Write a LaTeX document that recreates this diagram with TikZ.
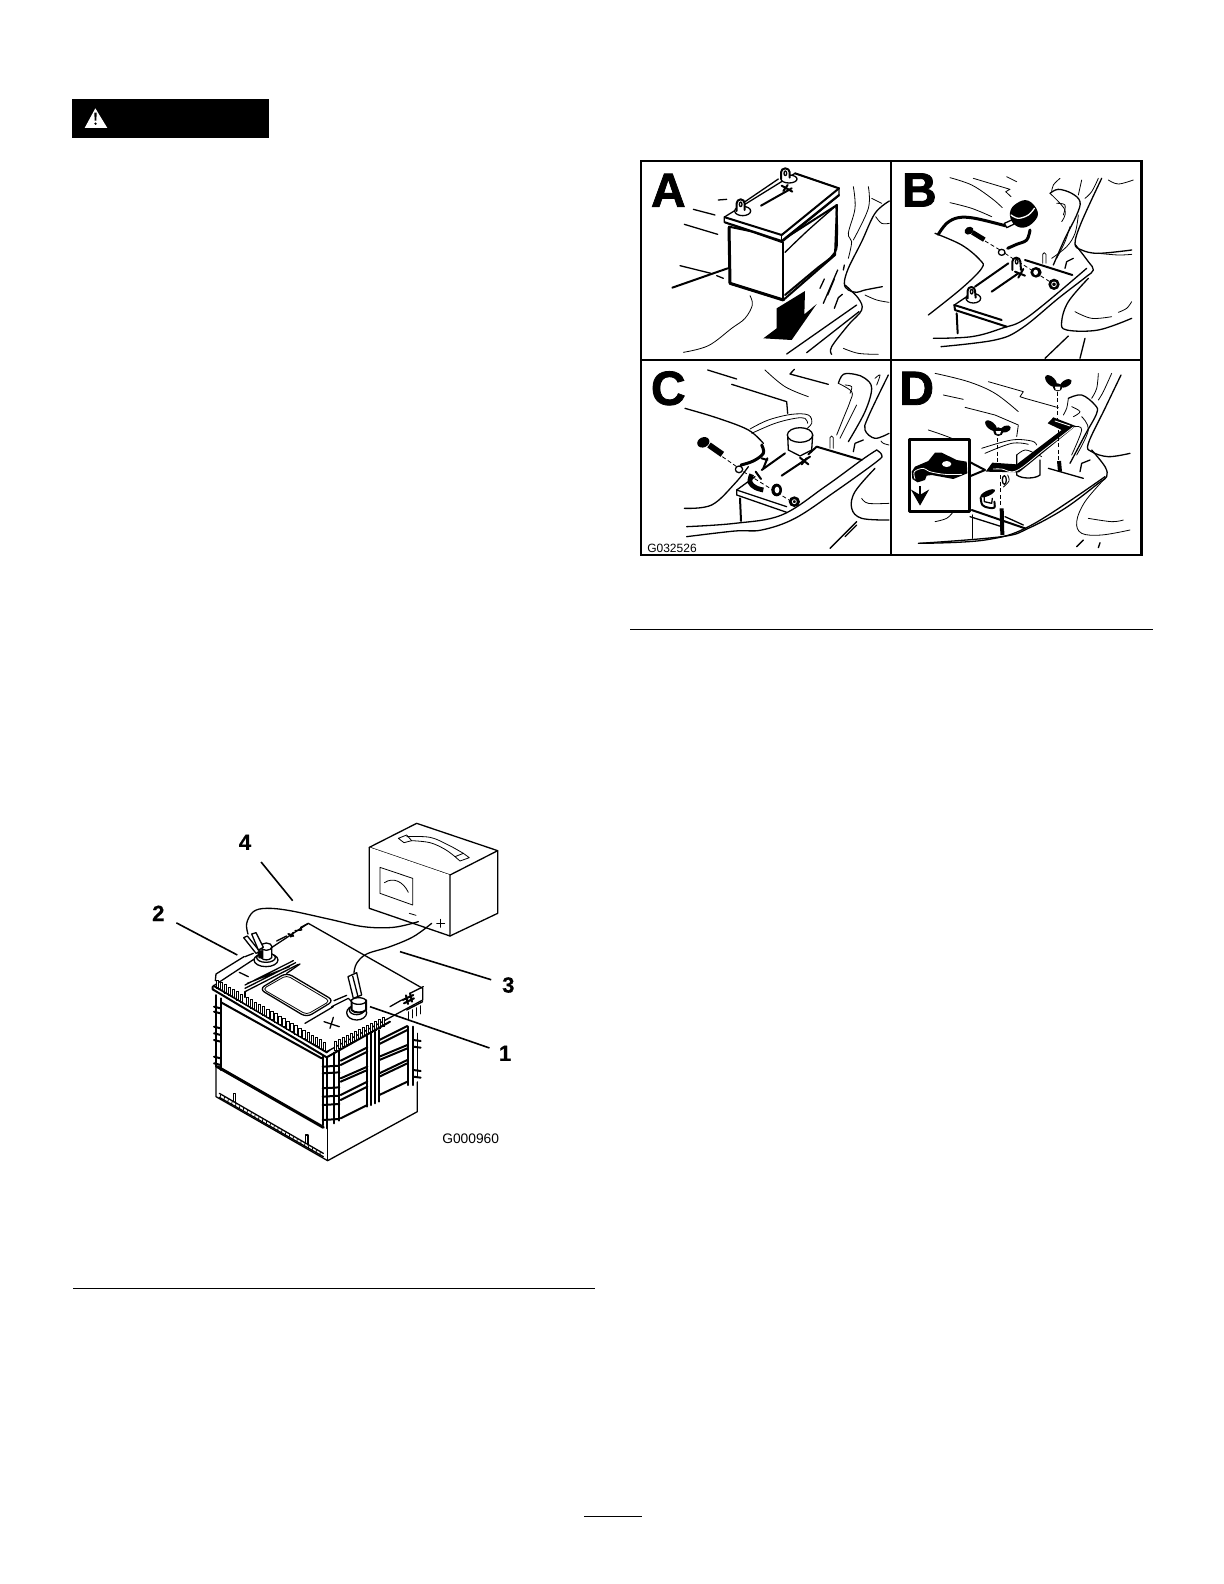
\documentclass[tikz,border=0pt]{standalone}
\usepackage{fontspec}
\setmainfont{Liberation Sans}
\newfontfamily\heavyf{Liberation Sans}[BoldFeatures={FakeBold=1.6}]
\newfontfamily\numf{Liberation Sans}[BoldFeatures={FakeBold=.6}]
\usetikzlibrary{arrows.meta}
\newcommand\crv[2][ln]{\draw[#1] plot[smooth,tension=.6] coordinates {#2};}
\tikzset{
  ln/.style={line width=.4pt,line cap=round,line join=round},
  lnm/.style={line width=.65pt,line cap=round,line join=round},
  lnb/.style={line width=1pt,line cap=round,line join=round},
  lnh/.style={line width=1.5pt,line cap=round,line join=round},
  dsh/.style={line width=.4pt,dash pattern=on 2pt off 1.3pt},
  rule/.style={line width=.5pt},
  frame/.style={line width=1.1pt},
  lab/.style={font=\numf\bfseries\fontsize{11}{12}\selectfont,circle,inner sep=0pt},
  leader/.style={line width=.8pt},
  code/.style={font=\fontsize{6.9}{8}\selectfont,inner sep=0pt},
  letter/.style={font=\heavyf\bfseries\fontsize{24}{26}\selectfont,inner sep=0pt},
}
\begin{document}
\begin{tikzpicture}[x=.5pt,y=-.5pt]
\useasboundingbox (0,0) rectangle (1224,1584);
\fill[white] (0,0) rectangle (1224,1584);
% header bar
\fill[black] (72,99) rectangle (269,137.7);
\begin{scope}[shift={(60,90)},scale=1/3]
\fill[white,line join=round] (106,55)--(74,114)--(142,114)--cycle;
\fill[black] (103,68)--(110,68)--(109,92)--(104,92)--cycle;
\fill[black] (106.5,101) circle (4);
\end{scope}
% rules
\draw[rule] (73,1288)--(595,1288);
\draw[rule] (630,629.5)--(1153,629.5);
\draw[rule] (584,1516)--(642,1516);

%%%%%%%%%%%%%%%% battery and meter
\begin{scope}[shift={(130,810)},scale=1/3]
% meter
\draw[lnm,fill=white] (718,112)--(860,40)--(1103,122)--(960,195)--cycle;
\draw[lnm,fill=white] (718,112)--(718,295)--(960,378)--(960,195);
\draw[lnm,fill=white] (960,378)--(1103,310)--(1103,122);
\draw[ln] (805,85)--(830,75)--(845,92)--(822,98)--cycle;
\draw[ln] (975,140)--(1000,130)--(1018,143)--(990,153)--cycle;
\crv{(830,80)(900,82)(955,105)(1000,130)}
\crv{(845,92)(900,98)(945,118)(975,140)}
\draw[ln] (750,172)--(848,205)--(848,285)--(750,250)--cycle;
\draw[ln] (763,218) .. controls (790,200) and (820,215) .. (835,247);
\draw[ln] (838,310)--(858,316);
\draw[ln] (932,328)--(932,352) (920,340)--(944,340);
% bottom block of battery
\draw[lnm,fill=white] (258,770)--(258,860)--(593,1052)--(862,905)--(862,790)--(590,900)--cycle;
\draw[lnm] (593,955)--(593,1052);
\draw[lnm] (268,850)--(580,1030);
\draw[lnm] (268,862)--(580,1040);
\foreach \i in {0,...,26} \draw[ln] ({272+\i*11.5},{855+\i*6.6})--++(-2,9);
\draw[lnm] (310,875)--(310,850)--(316,850)--(316,880);
\draw[lnm] (526,1000)--(526,975)--(534,975)--(534,1005);
% main body
\fill[white] (262,550)--(262,770)--(590,955)--(870,810)--(870,590)--(590,735)--cycle;
% left face
\draw[lnb] (258,555)--(258,770) (272,565)--(272,780);
\draw[lnb] (275,578)--(575,745);
\draw[lnh] (262,770)--(580,952);
\foreach \yy in {590,605,650,670,690,740,760} \draw[lnb] (252,\yy)--(272,{\yy+5});
% corner
\draw[lnb] (578,740)--(578,945) (590,745)--(590,955) (612,728)--(612,940) (628,722)--(628,932);
\foreach \yy in {770,790,835,860,885,930} \draw[lnb] (578,\yy)--(628,{\yy-3});
% right face grid
\foreach \xa/\ya/\xb/\yb in {632/752/712/712, 632/765/712/725, 632/855/712/815, 632/870/712/830, 632/925/712/885,
 748/690/832/648, 748/702/832/660, 748/790/832/750, 748/800/832/760, 748/855/832/815,
 632/805/712/770, 632/815/712/780, 748/740/832/705, 748/750/832/715}
  \draw[lnb] (\xa,\ya)--(\xb,\yb);
\draw[lnb] (712,675)--(712,890) (722,670)--(722,885) (735,665)--(735,880) (746,660)--(746,875);
\draw[lnb] (834,650)--(834,825) (848,650)--(848,825);
\draw[lnm] (862,670)--(862,800);
\foreach \yy in {690,710,780,800} \draw[lnb] (850,\yy)--(872,{\yy+3});
% lid
\draw[lnm,fill=white] (250,528)--(535,340)--(878,535)--(878,570)--(590,725)--cycle;
% teeth
\foreach \i in {0,...,6} \draw[line width=.5pt,fill=white] ({258+\i*12},{510+\i*7.1}) rectangle ++(8,25);
\foreach \i in {0,...,19} \draw[line width=.5pt,fill=white] ({348+\i*12.2},{562+\i*7.1}) rectangle ++(8,25);
\foreach \i in {0,...,12} \draw[line width=.5pt,fill=white] ({612+\i*12},{695-\i*6}) rectangle ++(8,26);
\draw[lnb] (248,530)--(248,538)--(590,742);
\draw[lnm] (250,526)--(590,728);
\draw[lnb] (590,742)--(780,635);
\draw[lnm] (258,492)--(342,440) (258,492)--(256,512) (370,430)--(345,440);
\draw[lnm] (590,728)--(600,720);
% sloped band on top
\draw[lnm] (345,545)--(505,463) (345,535)--(497,458) (345,525)--(490,452) (352,520)--(478,470);
\draw[lnm] (345,545)--(345,562);
\draw[lnm] (440,393)--(470,378);
\draw[lnb] (475,372)--(490,378) (490,368)--(482,380);
\draw[lnm] (495,362)--(515,360)--(512,352)--(535,340);
% window
\draw[lnm,rounded corners=3pt] (388,537)--(470,488)--(612,572)--(530,622)--cycle;
\draw[ln,rounded corners=2pt] (398,537)--(470,496)--(600,573)--(530,614)--cycle;
\draw[lnm] (470,490)--(510,462);
\draw[lnm] (612,572)--(650,556) (605,590)--(655,565)--(665,575);
\draw[lnm] (525,640)--(610,590);
% marks
\draw[lnm] (328,487)--(355,500);
\draw[lnm] (582,635)--(628,650) (610,622)--(600,655);
\draw[lnm] (780,590)--(815,570) (840,550)--(880,530);
\draw[lnb] (818,570)--(850,555) (822,580)--(852,565) (828,556)--(834,582) (840,550)--(846,575);
\draw[lnm] (830,600)--(878,575);
\foreach \i in {0,...,3} \draw[ln] ({835+\i*12},{605-\i*6})--++(0,25);
% negative post
\draw[lnm,fill=white] (408,450) ellipse (36 and 20);
\draw[lnm,fill=white] (408,443) ellipse (28 and 14);
\draw[lnm,fill=white] (393,410)--(393,443) .. controls (400,452) and (418,452) .. (425,443)--(425,410);
\draw[lnm,fill=white] (409,410) ellipse (17 and 11);
% clip on negative
\draw[lnm,fill=white] (341,383)--(352,378)--(390,425)--(378,430)--cycle;
\draw[lnm,fill=white] (365,372)--(378,368)--(400,412)--(385,420)--cycle;
\fill (382,425) -- (400,420)--(400,445)--(386,445)--cycle;
% positive post
\draw[lnm,fill=white] (680,608) ellipse (30 and 22);
\draw[lnm,fill=white] (680,600) ellipse (22 and 14);
\draw[lnb,fill=white] (665,570)--(665,600) .. controls (672,610) and (700,610) .. (708,600)--(708,570);
\draw[lnm,fill=white] (686,573) ellipse (22 and 10);
\draw[lnm,fill=white] (654,500)--(680,488)--(695,555)--(670,565)--cycle;
\draw[lnm] (668,498)--(684,560);
% wires
\crv[lnm]{(354,372)(350,340)(370,305)(410,295)(480,302)(600,328)(700,350)(790,352)(865,335)}
\crv[lnm]{(905,340)(850,380)(780,410)(710,432)(680,460)(672,488)}
% labels
\node[lab,minimum size=25pt] (n4) at (345,97) {4};
\node[lab,minimum size=20pt] (n2) at (85,310) {2};
\node[lab,minimum size=17.5pt] (n3) at (1135,525) {3};
\node[lab,minimum size=16pt] (n1) at (1125,730) {1};
\coordinate (e4) at (488,272);
\coordinate (e2) at (322,435);
\coordinate (e3) at (810,425);
\coordinate (e1) at (720,590);
\draw[leader] (n4)--(e4);
\draw[leader] (n2)--(e2);
\draw[leader] (n3)--(e3);
\draw[leader] (n1)--(e1);
\node[code,anchor=center] (g1) at (1022,987) {G000960};
\end{scope}

%%%%%%%%%%%%%%%% panel A
\begin{scope}[shift={(635,155)},scale=1/3]
\node[letter] (la) at (100,106) {A};
\draw[lnm] (175,163)--(240,180) (148,208)--(248,238) (250,135)--(275,133) (135,332)--(228,355) (245,362)--(265,370);
\draw[lnb] (112,398)--(278,340);
\crv{(345,422)(352,450)(330,490)(290,520)(220,572)(145,592)}
% battery
\draw[lnb,fill=white] (282,215)--(285,385)--(445,435)--(600,300)--(606,150)--(450,250)--cycle;
\draw[lnh] (282,218)--(285,385)--(445,435);
\draw[lnb] (445,435)--(445,262);
\crv[lnm]{(450,292)(520,225)(600,155)}
\crv[lnb]{(450,420)(540,345)(598,295)(606,240)(604,150)}
\draw[lnm,fill=white] (268,185)--(268,202)--(440,262)--(612,122)--(612,100)--(480,55)--(270,185);
\draw[lnb] (270,187)--(440,240)--(612,100);
\draw[lnb] (270,202)--(440,258)--(612,120);
\draw[lnm] (440,238)--(440,258);
\draw[lnm] (330,140)--(430,72);
\draw[lnb] (480,55)--(612,100);
\draw[lnb] (378,152)--(470,100);
\draw[lnb] (440,92)--(472,110) (445,108)--(458,90);
% terminals
\draw[lnm,fill=white] (323,168) ellipse (24 and 14);
\draw[lnb,fill=white] (305,168)--(305,145) arc (180:360:12 and 12)--(329,165);
\draw[lnm] (317,148) ellipse (4 and 7);
\draw[lnm,fill=white] (462,72) ellipse (24 and 12);
\draw[lnb,fill=white] (438,72)--(438,52) arc (180:360:13 and 12)--(464,68);
\draw[lnm] (451,55) ellipse (4 and 7);
% arrow
\fill (425,460)--(510,408)--(508,478)--(545,447)--(470,555)--(385,550)--(425,520)--cycle;
% right
\draw[lnm] (555,400)--(568,372) (565,445)--(608,345) (578,420)--(598,372) (625,345)--(628,330);
\draw[lnm] (598,460)--(610,428)--(622,418);
\crv[lnm]{(763,138)(720,175)(680,260)(640,340)(628,385)(640,405)(665,412)(690,405)(742,395)}
\crv{(655,95)(660,160)(640,235)(650,260)(640,310)}
\crv{(700,95)(700,160)(655,255)}
\draw[ln] (710,130)--(740,145);
\crv{(763,205)(740,205)(722,185)}
\crv{(690,420)(725,435)(762,442)}
\crv[lnm]{(630,390)(670,430)(680,465)(640,510)(590,575)(590,598)}
\draw[lnm] (455,597)--(665,450);
\draw[lnm] (515,593)--(672,470);
\crv{(625,580)(670,595)(730,598)}
\end{scope}

%%%%%%%%%%%%%%%% panel B
\begin{scope}[shift={(885,155)},scale=1/3]
\node[letter] (lb) at (103,105) {B};
\crv{(195,68)(260,90)(320,130)(352,158)}
\draw[ln] (265,70)--(375,103)--(362,110)--(378,125);
\crv{(365,65)(395,80)}
\crv{(195,143)(260,160)(320,185)}
\crv[lnh]{(160,238)(185,205)(220,188)(270,190)(360,212)}
% boot
\fill plot[smooth cycle,tension=.7] coordinates {(375,172)(395,145)(430,137)(458,170)(447,200)(415,218)(385,205)};
\crv[white,lnm]{(378,180)(400,190)(430,180)(448,160)}
\draw[lnm,fill=white] (358,205)--(380,195)--(388,207)--(365,218)--cycle;
\crv[lnh]{(435,225)(425,255)(395,268)(368,280)}
\draw[lnm,fill=white] (350,292) ellipse (10 and 9);
\draw[line width=2.4pt] (262,232)--(298,254);
\fill[rotate around={30:(252,227)}] (252,227) ellipse (14 and 11);
\draw[dsh] (300,258)--(345,285) (360,295)--(390,315) (400,320)--(510,390);
\crv[lnm]{(150,235)(230,270)(285,315)(290,340)(230,400)(130,480)}
% battery
\draw[lnb] (270,395)--(370,325);
\draw[lnb] (420,315)--(562,360);
\draw[lnb] (320,410)--(400,355);
\draw[lnb] (390,350)--(420,362) (400,368)--(415,342);
\draw[lnm] (208,450)--(245,425);
\draw[lnb] (208,450)--(210,465)--(365,515);
\draw[lnb] (208,450)--(350,495);
\draw[lnb] (215,475)--(218,535);
\draw[lnm,fill=white] (265,430) ellipse (22 and 14);
\draw[lnb,fill=white] (248,430)--(248,407) arc (180:360:11 and 11)--(272,428);
\draw[lnm] (260,410) ellipse (4 and 7);
\draw[lnb,fill=white] (382,345)--(382,320) arc (180:360:12 and 12)--(408,345);
\draw[lnm] (395,320) ellipse (4 and 7);
\fill (453,352) ellipse (17 and 16);
\fill[white] (452,352) ellipse (7 and 8);
\fill (507,388) ellipse (17 and 17);
\draw[white,ln] (507,388) circle (7);
% surround
\crv[lnm]{(145,550)(260,545)(350,520)(430,485)(605,340)}
\crv[lnm]{(570,268)(610,320)(625,345)(600,368)(520,430)(410,520)(330,555)(168,575)}
\crv[lnm]{(740,285)(640,295)(590,285)(570,265)(590,200)(650,70)}
\crv[lnm]{(495,115)(520,103)(560,115)(585,140)(575,180)(540,250)(505,330)}
\crv{(495,115)(540,165)(530,200)}
\crv{(515,145)(540,150)(535,180)}
\crv{(580,180)(570,235)(545,275)(500,310)}
\crv{(555,215)(540,260)(515,310)}
\draw[ln] (473,325)--(473,298) arc (180:360:5 and 5)--(483,325);
\draw[lnm] (540,340)--(545,320)--(565,310);
\crv{(525,70)(505,90)(500,110)}
\crv{(590,75)(580,120)}
\crv{(640,70)(620,110)(600,130)}
\crv{(670,75)(700,87)(745,75)}
\crv{(640,295)(700,300)(740,298)}
\crv{(740,440)(725,460)(700,472)}
\crv{(570,470)(620,490)(680,485)}
\crv[lnm]{(740,490)(640,525)(545,525)(530,500)(550,440)(610,370)}
\draw[lnm] (550,543)--(480,610) (600,550)--(585,610);
\end{scope}

%%%%%%%%%%%%%%%% panel C
\begin{scope}[shift={(635,355)},scale=1/3]
\node[letter] (lc) at (100,100) {C};
\draw[lnm] (218,45)--(305,72);
\crv{(390,45)(450,95)(520,125)}
\draw[lnm] (478,43)--(465,57)--(580,88);
\draw[lnm] (290,88)--(455,140)--(458,175);
\crv[lnm]{(150,160)(250,190)(340,225)(385,265)}
\crv{(345,222)(400,195)(470,178)(520,180)(530,205)(510,225)}
\crv{(350,235)(420,205)(480,190)(510,190)(518,205)}
% cylinder
\draw[lnm,fill=white] (458,240)--(460,285)--(495,303)--(530,285)--(533,240);
\draw[lnm,fill=white] (495,240) ellipse (38 and 22);
% bolt
\draw[line width=3pt] (222,270)--(262,298);
\fill[rotate around={25:(205,262)}] (205,262) ellipse (19 and 15);
\draw[dsh] (262,305)--(305,335) (325,350)--(470,440);
\crv[lnh]{(380,270)(385,295)(355,318)(318,330)}
\draw[lnm,fill=white] (312,343) ellipse (11 and 10);
\draw[lnb] (385,340)--(397,310)(397,315)--(380,310);
% battery
\draw[lnm] (305,405)--(360,365);
\draw[lnb] (380,345)--(450,295);
\draw[lnb] (440,362)--(525,305);
\draw[lnb] (495,308)--(520,328) (500,328)--(515,310);
\draw[lnb] (545,275)--(680,315) (545,275)--(520,298);
\crv[line width=2.4pt]{(350,358)(345,382)(362,398)(385,405)}
\draw[lnb] (362,350)--(378,372);
\fill (425,405) ellipse (16 and 19);
\fill[white] (426,405) ellipse (7 and 10);
\fill (478,440) ellipse (17 and 16);
\draw[white,ln] (478,440) circle (6);
\draw[lnm] (305,405)--(305,420)--(455,472);
\draw[lnm] (305,405)--(455,455);
\draw[lnb] (315,430)--(318,498);
\crv[lnm]{(148,460)(230,450)(300,385)(340,335)}
\crv[lnm]{(155,515)(300,505)(440,480)(570,395)(680,315)(725,285)}
\crv[lnm]{(155,545)(300,528)(380,525)(480,490)(600,410)(725,320)(740,300)(725,285)}
\crv[lnm]{(762,235)(720,250)(690,225)(700,185)(760,60)}
\crv[lnm]{(610,85)(625,58)(660,58)(690,70)(710,100)(690,170)(640,260)}
\crv{(610,85)(650,110)(645,140)(625,190)(605,240)}
\crv{(665,150)(640,200)(615,250)}
\crv{(630,90)(650,95)(645,115)}
\crv{(720,70)(735,60)(725,90)}
\draw[ln] (585,280)--(585,248) arc (180:360:5 and 5)--(595,280);
\draw[lnm] (655,290)--(660,265)--(685,255);
\crv{(762,445)(700,445)(680,430)}
\crv{(762,270)(745,265)(738,258)}
\crv[lnm]{(762,495)(680,490)(650,460)(660,410)(720,340)}
\draw[lnm] (665,500)--(585,580) (665,510)--(630,545);
\node[code,font=\fontsize{6}{7}\selectfont] (g2) at (111,580) {G032526};
\end{scope}

%%%%%%%%%%%%%%%% panel D
\begin{scope}[shift={(885,355)},scale=1/3]
\node[letter] (ld) at (95,100) {D};
\crv{(150,55)(250,80)(330,115)(400,170)}
\draw[ln] (310,80)--(415,110)--(405,125)--(420,130)--(520,158);
\draw[ln] (175,120)--(235,133);
\draw[ln] (240,157)--(330,180)--(400,210)--(395,245);
\crv{(130,225)(200,250)(255,280)}
% wire + cylinder
\crv{(290,280)(380,255)(440,258)(455,270)}
\crv{(300,295)(380,265)(430,268)}
\draw[lnm,fill=white] (395,300)--(395,360) .. controls (410,372) and (450,372) .. (465,360)--(465,315);
\crv{(395,300)(420,285)(450,295)(470,305)}
% battery
\draw[lnm] (490,340)--(595,370);
\draw[lnb] (260,465)--(420,520);
\draw[lnm] (255,485)--(350,515) (360,485)--(415,510);
\draw[lnm] (262,480)--(262,550);
\crv{(150,500)(185,490)(205,470)}
\crv[lnm]{(100,565)(300,555)(440,510)(660,365)}
\crv[lnm]{(620,285)(660,335)(665,365)(640,385)(540,460)(430,520)(350,545)(105,565)}
\crv[lnm]{(735,295)(670,305)(620,290)(610,265)(660,160)(708,60)}
\crv[lnm]{(550,130)(590,120)(630,150)(635,175)(600,240)(555,325)}
\crv{(550,130)(545,160)(535,180)}
\crv{(560,155)(585,170)(565,185)}
\crv{(590,185)(610,225)(575,300)}
\crv{(570,215)(590,225)(560,300)}
\crv{(640,55)(635,100)(620,130)}
\crv{(680,55)(655,110)(640,135)}
\draw[lnm] (585,350)--(590,325)--(615,315);
\crv{(610,490)(680,500)(715,495)}
\crv{(735,525)(650,540)(590,535)(575,500)(600,440)(660,370)}
\draw[lnm] (595,555)--(575,575) (645,563)--(640,578);
% terminal
\crv[lnb]{(287,428)(292,450)(310,458)(328,458)(328,440)}
\draw[lnm] (298,425)--(298,440)--(320,445)--(322,430);
\fill[rotate around={25:(308,415)}] (308,415) ellipse (24 and 8);
\draw[lnm,fill=white] (358,375) ellipse (6 and 13);
\crv{(368,360)(372,378)(355,396)}
% strap
\fill (488,205)--(505,187)--(572,213)--(402,352)--(302,350)--(322,323)--(395,328)--(530,225)--cycle;
\crv[white,ln]{(325,342)(350,342)(395,347)(480,282)(565,216)}
\draw[white,ln] (510,198)--(555,213);
% dashed
\draw[dsh] (338,250)--(338,335) (518,110)--(518,195) (345,360)--(345,455) (520,225)--(520,315);
\draw[line width=2pt] (350,460)--(352,540);
\draw[line width=2pt] (522,318)--(525,350);
% wing nuts
\fill[rotate around={-40:(318,212)}] (318,212) ellipse (21 and 11);
\fill[rotate around={20:(362,222)}] (362,222) ellipse (16 and 10);
\fill (340,230) ellipse (15 and 13);
\fill[white] (332,228)--(348,228)--(345,237)--(335,237)--cycle;
\fill[rotate around={-45:(498,78)}] (498,78) ellipse (22 and 12);
\fill[rotate around={30:(543,85)}] (543,85) ellipse (19 and 10);
\fill (518,97) ellipse (14 and 12);
\fill[white] (510,95)--(526,95)--(524,105)--(512,105)--cycle;
% inset
\draw[lnb] (252,320)--(300,345)--(252,365);
\draw[lnh,fill=white] (72,252)--(252,252)--(252,470)--(72,470)--cycle;
\fill (80,350)--(90,335)--(130,318)--(150,293)--(170,293)--(215,315)--(245,320)--(247,355)--(205,372)--(140,360)--(125,362)--(120,375)--(98,382)--(82,372)--cycle;
\fill[white] (185,327) ellipse (14 and 9);
\crv[white,ln]{(90,372)(88,350)(115,340)(135,350)(180,358)(230,358)}
\draw[-{Stealth[length=8pt,width=9pt]},line width=1.3pt] (105,393)--(105,452);
\end{scope}

% frame
\draw[frame] (641,160.7) rectangle (1141.5,555);
\draw[frame] (891,160.7)--(891,555);
\draw[frame] (641,360)--(1141.5,360);
\end{tikzpicture}
\end{document}
